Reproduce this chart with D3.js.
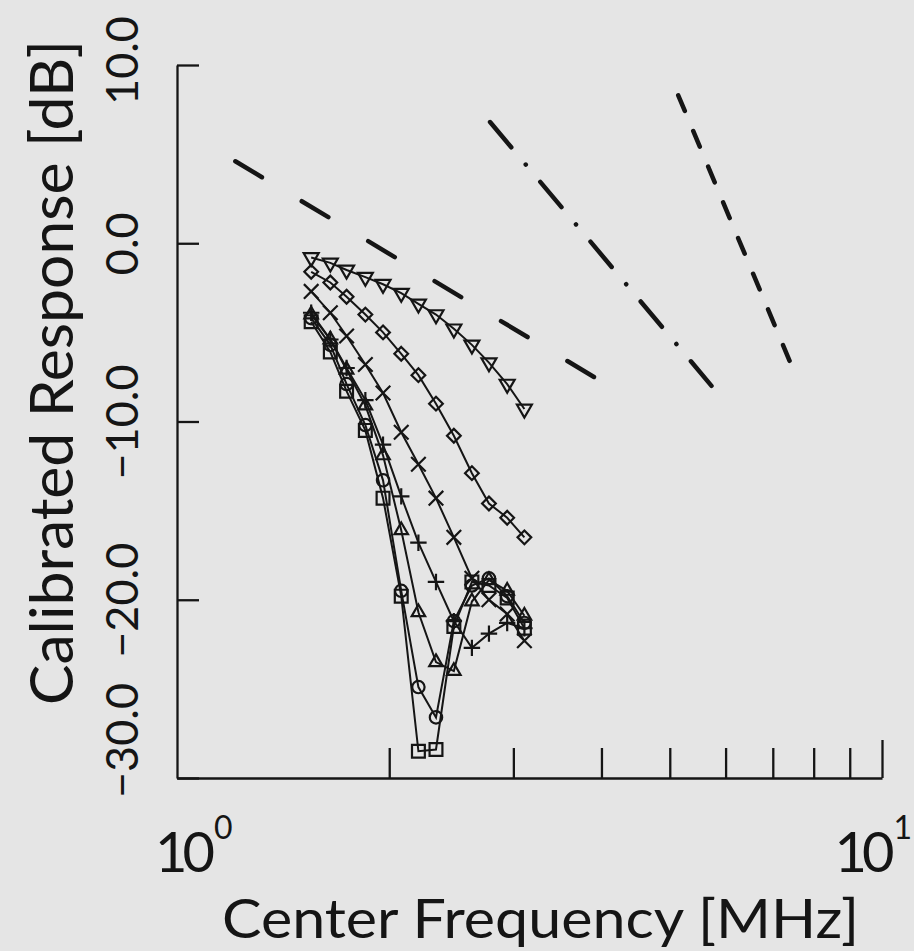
<!DOCTYPE html>
<html>
<head>
<meta charset="utf-8">
<script src="https://cdn.jsdelivr.net/npm/d3@7"></script>
<style>
  body { margin: 0; background: #e5e5e5; }
  svg { display: block; }
  text { font-family: Lato, "DejaVu Sans", sans-serif; fill: #151515; }
</style>
</head>
<body>
<div id="chart"></div>
<script>
// Width and height
var chart_width  = 914;
var chart_height = 951;
var ink = "#151515";

// centre frequencies [MHz], shared by all measured curves
var freqMHz = [1.55, 1.65, 1.74, 1.85, 1.96, 2.08, 2.20, 2.33, 2.47, 2.62, 2.77, 2.94, 3.11];

// calibrated response [dB], one array per marker
var respTriDown = [-0.8, -1.1, -1.5, -1.9, -2.3, -2.8, -3.4, -4.0, -4.8, -5.7, -6.7, -7.9, -9.3];
var respDiamond = [-1.6, -2.2, -3.0, -4.0, -5.0, -6.2, -7.4, -9.0, -10.8, -12.9, -14.6, -15.4, -16.5];
var respTimes   = [-2.7, -3.9, -5.2, -6.8, -8.4, -10.6, -12.4, -14.3, -16.5, -18.8, -20.0, -20.8, -22.3];
var respPlus    = [-3.9, -5.4, -7.0, -8.8, -11.3, -14.2, -16.8, -19.0, -21.2, -22.7, -21.9, -21.3, -21.6];
var respTriUp   = [-4.0, -5.4, -7.1, -9.1, -11.9, -16.1, -20.7, -23.5, -24.0, -20.1, -18.9, -19.5, -20.9];
var respCircle  = [-4.2, -5.7, -7.9, -10.2, -13.3, -19.5, -24.9, -26.6, -21.2, -19.2, -18.8, -19.8, -21.3];
var respSquare  = [-4.4, -6.1, -8.3, -10.5, -14.3, -19.8, -28.5, -28.4, -21.5, -19.0, -19.2, -19.9, -21.6];

// straight reference lines: end points (frequency, dB)
var refLongDashF  = [1.21, 3.94];
var refLongDashDb = [4.6, -7.6];
var refDashDotF   = [2.78, 5.73];
var refDashDotDb  = [6.8, -8.0];
var refDashF      = [5.14, 7.45];
var refDashDb     = [8.3, -6.9];

// axis ticks
var yTicks = [10, 0, -10, -20, -30];
var xTicks = [2, 3, 4, 5, 6, 7, 8, 9, 10];
var xLabelExp = [0, 1];

var x = d3.scaleLog().domain([1, 10]).range([177, 882]);
var y = d3.scaleLinear().domain([-30, 10]).range([778, 65]);

var svg = d3.select("#chart")
    .append("svg")
    .attr("width", chart_width)
    .attr("height", chart_height);

svg.append("rect")
    .attr("width", chart_width)
    .attr("height", chart_height)
    .attr("fill", "#e5e5e5");

// axes
var yAxis = svg.append("g")
    .attr("transform", "translate(177,0)")
    .call(d3.axisLeft(y).tickValues(yTicks).tickSize(-22).tickSizeOuter(0)
        .tickFormat(d3.format(".1f")));

yAxis.selectAll(".tick text")
    .attr("transform", "rotate(-90)")
    .attr("x", function(d){ return d === -30 ? 38 : (d === 10 ? 5 : 0); })
    .attr("y", -39)
    .attr("dy", 0)
    .attr("text-anchor", "middle")
    .style("font-size", "45px")
    .style("font-family", "Lato, 'DejaVu Sans', sans-serif")
    .attr("fill", ink);

var xAxis = svg.append("g")
    .attr("transform", "translate(0,778)")
    .call(d3.axisBottom(x).tickValues(xTicks).tickSize(-30).tickSizeOuter(0)
        .tickFormat(""));

xAxis.selectAll(".tick line")
    .filter(function(d){ return d === 10; })
    .attr("y2", -38);

svg.selectAll(".domain, .tick line")
    .attr("stroke", ink)
    .attr("stroke-width", 2.3);

// x tick labels 10^0 and 10^1 (the right one is kept inside the page)
xLabelExp.forEach(function(e){
    var px = x(Math.pow(10, e));
    var t = svg.append("text")
        .attr("x", e === 0 ? px - 22 : chart_width - 2)
        .attr("y", 872)
        .attr("text-anchor", e === 0 ? "start" : "end")
        .style("font-size", "56px");
    t.append("tspan")
        .style("letter-spacing", "-5px")
        .text("10");
    t.append("tspan")
        .attr("dy", -33)
        .attr("dx", 4)
        .style("font-size", "32px")
        .text(e);
});

// axis titles
svg.append("text")
    .attr("x", 222)
    .attr("y", 938)
    .style("font-size", "54px")
    .attr("textLength", 637)
    .attr("lengthAdjust", "spacingAndGlyphs")
    .text("Center Frequency [MHz]");

svg.append("text")
    .attr("transform", "translate(73,705) rotate(-90)")
    .style("font-size", "60px")
    .attr("textLength", 665)
    .attr("lengthAdjust", "spacingAndGlyphs")
    .text("Calibrated Response [dB]");

// reference lines
var refs = [
    {f: refLongDashF, db: refLongDashDb, dash: "31,46.5"},
    {f: refDashDotF,  db: refDashDotDb,  dash: "33,22.5,0.1,22.5"},
    {f: refDashF,     db: refDashDb,     dash: "17,21.7"}
];
refs.forEach(function(r){
    svg.append("line")
        .attr("x1", x(r.f[0])).attr("y1", y(r.db[0]))
        .attr("x2", x(r.f[1])).attr("y2", y(r.db[1]))
        .attr("stroke", ink)
        .attr("stroke-width", 4.5)
        .attr("stroke-linecap", "round")
        .attr("stroke-dasharray", r.dash);
});

// measured curves
var series = [
    {vals: respSquare,  sym: d3.symbolSquare2,   size: 210, rot: 0},
    {vals: respCircle,  sym: d3.symbolCircle,    size: 120, rot: 0},
    {vals: respTriUp,   sym: d3.symbolTriangle2, size: 130, rot: 0},
    {vals: respPlus,    sym: d3.symbolPlus,      size: 90,  rot: 0},
    {vals: respTimes,   sym: d3.symbolTimes,     size: 140, rot: 0},
    {vals: respDiamond, sym: d3.symbolDiamond2,  size: 120, rot: 0},
    {vals: respTriDown, sym: d3.symbolTriangle2, size: 160, rot: 180}
];

var line = d3.line()
    .x(function(d){ return x(d[0]); })
    .y(function(d){ return y(d[1]); });

series.forEach(function(s){
    var pts = freqMHz.map(function(f, i){ return [f, s.vals[i]]; });
    var g = svg.append("g");
    g.append("path")
        .attr("d", line(pts))
        .attr("fill", "none")
        .attr("stroke", ink)
        .attr("stroke-width", 2);
    g.selectAll("path.m")
        .data(pts)
        .enter()
        .append("path")
        .attr("class", "m")
        .attr("d", d3.symbol().type(s.sym).size(s.size))
        .attr("transform", function(d){
            return "translate(" + x(d[0]) + "," + y(d[1]) + ") rotate(" + s.rot + ")";
        })
        .attr("fill", "none")
        .attr("stroke", ink)
        .attr("stroke-width", 2.2);
});
</script>
</body>
</html>
